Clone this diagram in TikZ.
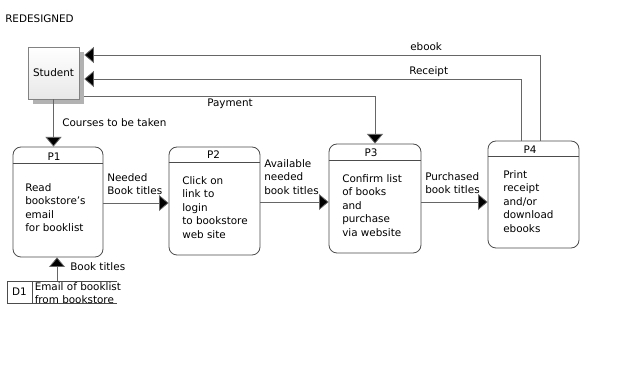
\documentclass[tikz,border=0pt]{standalone}
\usepackage{fontspec}
\setmainfont{DejaVu Sans}
\usetikzlibrary{arrows.meta,calc,shadows}
\definecolor{linecol}{gray}{0.4}
\definecolor{boxcol}{gray}{0.3}
\tikzset{
  every node/.style={font=\fontsize{7.8}{10.1}\selectfont, inner sep=0pt},
  flow/.style={draw=linecol, line width=0.6pt, -{Triangle[length=7.2pt,width=12pt,fill=black]}},
  proc/.style={draw=boxcol, fill=white, rounded corners=6pt, line width=0.6pt},
  hdr/.style={draw=boxcol, line width=0.6pt},
  lbl/.style={anchor=north west, align=left},
  ent/.style={draw=boxcol!70, line width=0.5pt, top color=white, bottom color=gray!18},
  entshadow/.style={fill=gray!60, draw=none},
}
\begin{document}
\begin{tikzpicture}[x=0.75pt,y=-0.75pt]
\useasboundingbox[fill=white] (0,0) rectangle (640,370);

\node[anchor=base west] (title) at (5,23) {REDESIGNED};

% Student entity with 3D shadow
\node[entshadow, minimum width=51*0.75pt, minimum height=52*0.75pt] (stus) at (58.5,78) {};
\node[ent, minimum width=51*0.75pt, minimum height=52*0.75pt] (stu) at (53.5,73) {Student};

% Processes
\node[proc, minimum width=90*0.75pt, minimum height=110*0.75pt] (p1) at (58,202) {};
\draw[hdr] ($(p1.north west)+(0,17)$) -- ($(p1.north east)+(0,17)$);
\node (p1l) at (54,157) {P1};
\node[lbl] (p1t) at (25,183) {Read\\bookstore's\\email\\for booklist};

\node[proc, minimum width=91*0.75pt, minimum height=108*0.75pt] (p2) at (214.5,201) {};
\draw[hdr] ($(p2.north west)+(0,16)$) -- ($(p2.north east)+(0,16)$);
\node (p2l) at (213.5,155) {P2};
\node[lbl] (p2t) at (182,176) {Click on\\link to\\login\\to bookstore\\web site};

\node[proc, minimum width=92*0.75pt, minimum height=109*0.75pt] (p3) at (375,198.5) {};
\draw[hdr] ($(p3.north west)+(0,17)$) -- ($(p3.north east)+(0,17)$);
\node (p3l) at (371,153) {P3};
\node[lbl] (p3t) at (342,174) {Confirm list\\of books\\and\\purchase\\via website};

\node[proc, minimum width=91*0.75pt, minimum height=107*0.75pt] (p4) at (533.5,194.5) {};
\draw[hdr] ($(p4.north west)+(0,16)$) -- ($(p4.north east)+(0,16)$);
\node (p4l) at (530,150) {P4};
\node[lbl] (p4t) at (503,170) {Print\\receipt\\and/or\\download\\ebooks};

% Data store D1
\coordinate (dtl) at (7,281);
\coordinate (dbl) at (7,303);
\coordinate (dtr) at (117,281);
\coordinate (dbr) at (117,303);
\coordinate (ddt) at (32,281);
\coordinate (ddb) at (32,303);
\draw[boxcol, line width=0.6pt] (dtr) -- (dtl) -- (dbl) -- (dbr);
\draw[boxcol, line width=0.6pt] (ddt) -- (ddb);
\node (d1) at (19.5,292) {D1};
\node[lbl] (d1t) at (34.5,282) {Email of booklist\\from bookstore};

% Flows
\coordinate (ebk) at (540,55);
\draw[flow] (p4.north -| ebk) -- (ebk) -- (stus.east |- ebk);
\node[anchor=base west] (ebkl) at (410,51) {ebook};

\coordinate (rcp) at (521,79);
\draw[flow] (p4.north -| rcp) -- (rcp) -- (stus.east |- rcp);
\node[anchor=base west] (rcpl) at (409,75) {Receipt};

\coordinate (pay) at (375,96);
\draw[flow] (stus.east |- pay) -- (pay) -- (p3.north);
\node[anchor=base west] (payl) at (207,107) {Payment};

\draw[flow] (stu.south) -- (stu.south |- p1.north);
\node[anchor=base west] (crsl) at (62,127) {Courses to be taken};

\coordinate (a12) at (103,203);
\draw[flow] (a12) -- (a12 -| p2.west);
\node[lbl] (a12l) at (107,173) {Needed\\Book titles};

\coordinate (a23) at (260,202);
\draw[flow] (a23) -- (a23 -| p3.west);
\node[lbl] (a23l) at (264,159) {Available\\needed\\book titles};

\coordinate (a34) at (421,202);
\draw[flow] (a34) -- (a34 -| p4.west);
\node[lbl] (a34l) at (425,172) {Purchased\\book titles};

\coordinate (bt) at (57,281);
\draw[flow] (bt) -- (bt |- p1.south);
\node[anchor=base west] (btl) at (70,271) {Book titles};
\end{tikzpicture}
\end{document}
